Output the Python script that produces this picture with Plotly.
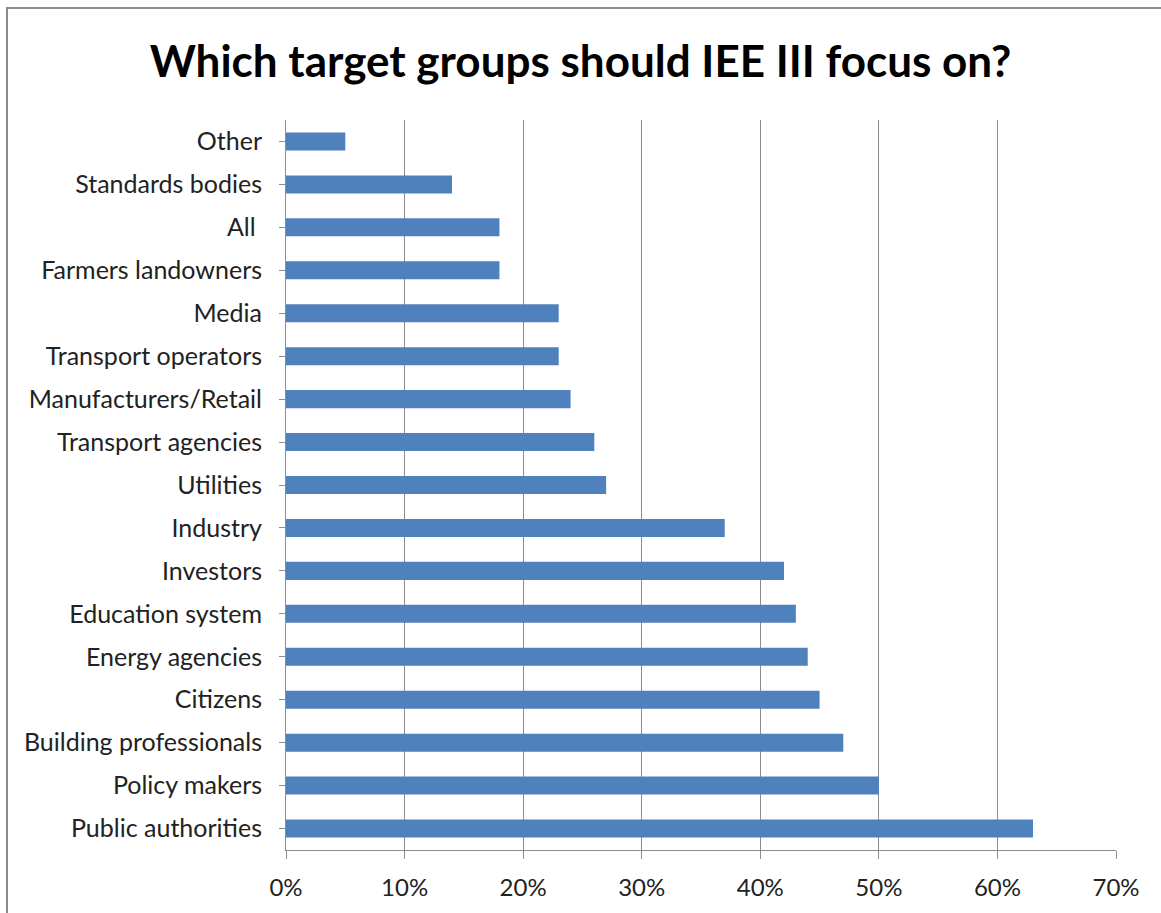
import plotly.graph_objects as go

categories = ["Public authorities", "Policy makers", "Building professionals", "Citizens",
              "Energy agencies", "Education system", "Investors", "Industry", "Utilities",
              "Transport agencies", "Manufacturers/Retail", "Transport operators", "Media",
              "Farmers landowners", "All ", "Standards bodies", "Other"]
values = [0.63, 0.50, 0.47, 0.45, 0.44, 0.43, 0.42, 0.37, 0.27, 0.26, 0.24, 0.23, 0.23,
          0.18, 0.18, 0.14, 0.05]
tick_vals = [0, 0.1, 0.2, 0.3, 0.4, 0.5, 0.6, 0.7]
tick_text = ["0%", "10%", "20%", "30%", "40%", "50%", "60%", "70%"]

font_family = "Lato, Open Sans, sans-serif"

fig = go.Figure(go.Bar(
    x=values, y=categories, orientation="h",
    marker=dict(color="#4F81BD", line=dict(width=0)),
))

W, H = 1161, 913
L, R, T, B = 286, 45, 120, 63
pw, ph = W - L - R, H - T - B

fig.update_layout(
    width=W, height=H,
    margin=dict(l=L, r=R, t=T, b=B),
    paper_bgcolor="white", plot_bgcolor="white",
    bargap=0.58,
    showlegend=False,
    font=dict(family=font_family, size=25, color="#222"),
    title=dict(text="<b>Which target groups should IEE III focus on?</b>",
               x=0.5, xanchor="center", y=1 - 62 / H, yanchor="middle",
               font=dict(family=font_family, size=44, color="black")),
    xaxis=dict(range=[0, 0.7], tickvals=tick_vals, ticktext=tick_text,
               showgrid=True, gridcolor="#8C8C8C", gridwidth=1,
               showline=True, linecolor="#8C8C8C", linewidth=1,
               ticks="outside", ticklen=8, tickcolor="#8C8C8C",
               zeroline=False, fixedrange=True, ticklabelstandoff=8,
               tickfont=dict(size=24, color="#222")),
    yaxis=dict(categoryorder="array", categoryarray=categories,
               showline=True, linecolor="#8C8C8C", linewidth=1,
               ticks="outside", ticklen=6, tickcolor="#8C8C8C",
               showgrid=False, ticklabelstandoff=12,
               tickfont=dict(size=25, color="#222")),
)

fig.add_shape(type="rect", xref="paper", yref="paper",
              x0=(7 - L) / pw, x1=(W + 20 - L) / pw,
              y0=-(B + 20) / ph, y1=(H - 8 - B) / ph,
              line=dict(color="#8C8C8C", width=2), fillcolor="rgba(0,0,0,0)",
              layer="below")

fig.write_html("out.html")
